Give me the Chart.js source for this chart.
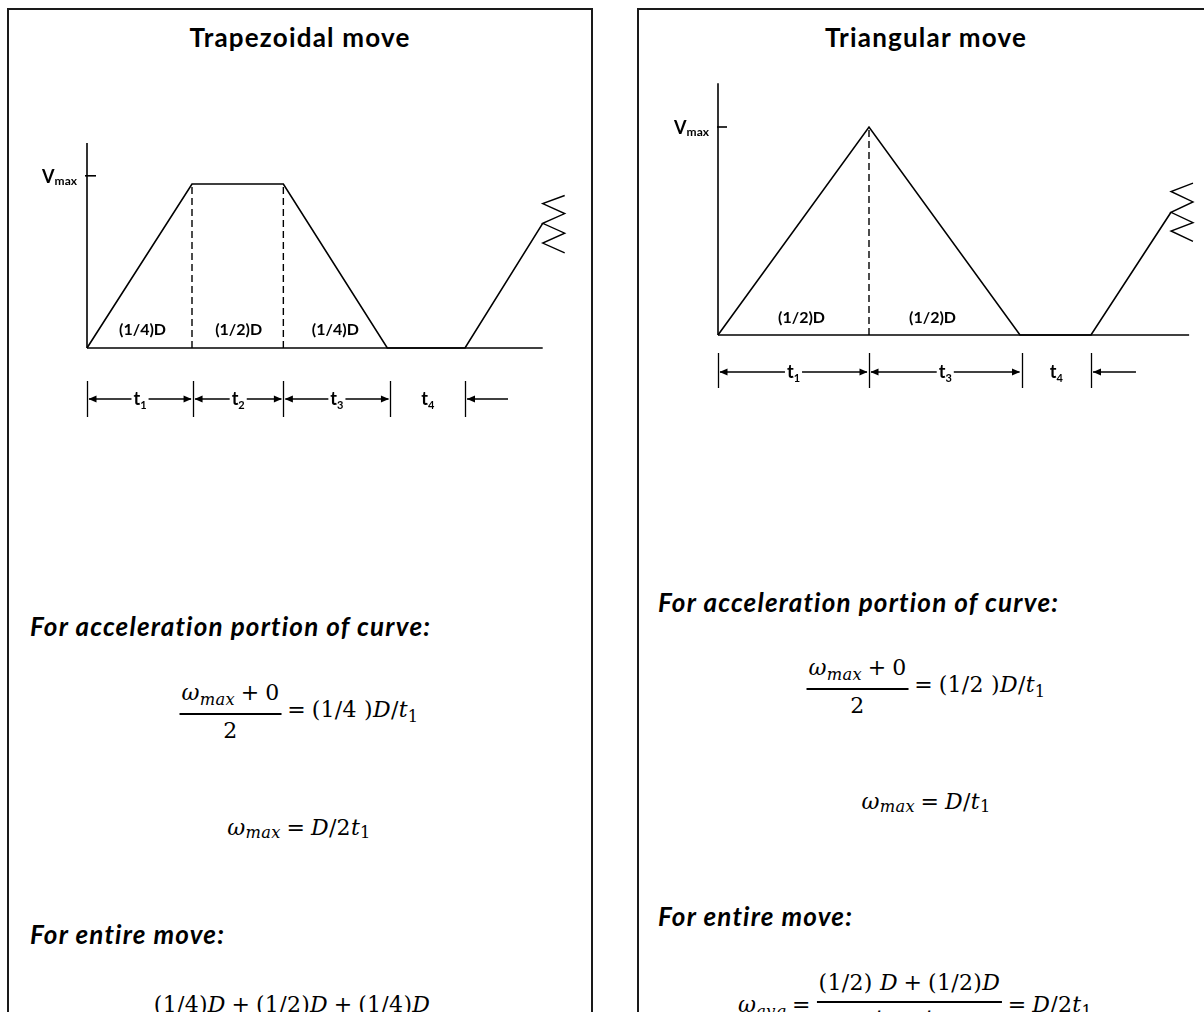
<!DOCTYPE html>
<html><head><meta charset="utf-8">
<script src="https://cdn.jsdelivr.net/npm/chart.js@4.4.0/dist/chart.umd.min.js"></script>
<style>
html,body{margin:0;padding:0;background:#fff;width:1204px;height:1012px;overflow:hidden;position:relative;}
.box{position:absolute;top:8px;border:2px solid #1a1a1a;border-bottom:none;height:1100px;box-sizing:border-box;}
#boxL{left:7px;width:586px;}
#boxR{left:637px;width:620px;}
.title{position:absolute;font-family:Lato,'Open Sans',sans-serif;font-weight:700;font-size:26px;line-height:31px;letter-spacing:1.2px;white-space:nowrap;transform:translateX(-50%);color:#000;}
.head{position:absolute;font-family:Lato,'Open Sans',sans-serif;font-weight:700;font-style:italic;font-size:26px;line-height:31px;letter-spacing:1.2px;white-space:nowrap;color:#000;}
.m{position:absolute;font-family:'DejaVu Serif',serif;font-size:22px;line-height:26px;letter-spacing:0.3px;white-space:nowrap;display:flex;align-items:flex-start;transform:translateX(-50%);color:#000;}
.i{font-style:italic;}
.sub{font-size:0.74em;position:relative;top:0.32em;}
.frac{display:inline-flex;flex-direction:column;align-items:center;}
.num{border-bottom:2px solid #000;padding:0 2px 5px 2px;}
.den{padding-top:3px;}
.op{margin:0 0.26em;}
.rhs{margin-top:17px;}
.rhs.low{margin-top:22px;}
canvas{position:absolute;}
#cTrap{left:20px;top:100px;}
#cTri{left:650px;top:60px;}
</style></head>
<body>
<div class="box" id="boxL"></div>
<div class="box" id="boxR"></div>
<div class="title" style="left:300px;top:22px">Trapezoidal move</div>
<div class="title" style="left:926px;top:22px">Triangular move</div>

<canvas id="cTrap" width="560" height="340"></canvas>
<canvas id="cTri" width="554" height="360"></canvas>

<div class="head" style="left:30px;top:611px">For acceleration portion of curve:</div>
<div class="m" style="left:299px;top:680px">
  <span class="frac"><span class="num"><span class="i">ω</span><span class="sub i">max</span><span class="op">+</span>0</span><span class="den">2</span></span>
  <span class="rhs"><span class="op">=</span>(1/4 )<span class="i">D</span>/<span class="i">t</span><span class="sub">1</span></span>
</div>
<div class="m" style="left:299px;top:815px"><span class="i">ω</span><span class="sub i">max</span><span class="op">=</span><span class="i">D</span>/2<span class="i">t</span><span class="sub">1</span></div>
<div class="head" style="left:30px;top:919px">For entire move:</div>
<div class="m" style="left:292px;top:992px">(1/4) <span class="i">D</span><span class="op">+</span>(1/2)<span class="i">D</span><span class="op">+</span>(1/4)<span class="i">D</span></div>

<div class="head" style="left:658px;top:587px">For acceleration portion of curve:</div>
<div class="m" style="left:926px;top:655px">
  <span class="frac"><span class="num"><span class="i">ω</span><span class="sub i">max</span><span class="op">+</span>0</span><span class="den">2</span></span>
  <span class="rhs"><span class="op">=</span>(1/2 )<span class="i">D</span>/<span class="i">t</span><span class="sub">1</span></span>
</div>
<div class="m" style="left:926px;top:789px"><span class="i">ω</span><span class="sub i">max</span><span class="op">=</span><span class="i">D</span>/<span class="i">t</span><span class="sub">1</span></div>
<div class="head" style="left:658px;top:901px">For entire move:</div>
<div class="m" style="left:915px;top:970px">
  <span class="rhs low"><span class="i">ω</span><span class="sub i">avg</span><span class="op">=</span></span>
  <span class="frac"><span class="num">(1/2) <span class="i">D</span><span class="op">+</span>(1/2)<span class="i">D</span></span><span class="den"><span class="i">t</span><span class="sub">1</span><span class="op">+</span><span class="i">t</span><span class="sub">3</span></span></span>
  <span class="rhs low"><span class="op">=</span><span class="i">D</span>/2<span class="i">t</span><span class="sub">1</span></span>
</div>

<script>
// ---------- Trapezoidal move (time in units of t1, velocity in units of plateau speed) ----------
const trapTimes = [0, 1.00, 1.87, 2.86, 3.60, 4.34];
const trapVel   = [0, 1.00, 1.00, 0.00, 0.00, 0.76];
const trapVmax  = 1.05;
const trapAxisTop = 1.25;
const trapBaselineEnd = 4.34;
const trapAreaLabels = ['(1/4)D', '(1/2)D', '(1/4)D'];
const trapDimTicks = [0, 1.01, 1.87, 2.89, 3.60];
const trapDimLabels = ['t1', 't2', 't3', 't4'];
const trapBreakVel = [0.93, 0.88, 0.82, 0.76, 0.70, 0.64, 0.58];

// ---------- Triangular move ----------
const triTimes = [0, 1.00, 2.00, 2.47, 3.00];
const triVel   = [0, 1.00, 0.00, 0.00, 0.59];
const triVmax  = 1.00;
const triAxisTop = 1.21;
const triBaselineEnd = 3.12;
const triAreaLabels = ['(1/2)D', '(1/2)D'];
const triDimTicks = [0, 1.00, 2.01, 2.47];
const triDimLabels = ['t1', 't3', 't4'];
const triBreakVel = [0.73, 0.69, 0.64, 0.59, 0.54, 0.50, 0.45];

const INK = '#000';

const decor = {
  id: 'decor',
  afterDatasetsDraw(chart, args, o) {
    const ctx = chart.ctx, xs = chart.scales.x, ys = chart.scales.y;
    const px = t => xs.getPixelForValue(t), py = v => ys.getPixelForValue(v);
    const L = o.lay;
    ctx.save();
    ctx.fillStyle = INK; ctx.strokeStyle = INK;
    // V_max label
    const x0 = px(0), yv = py(o.vmax);
    ctx.textBaseline = 'alphabetic';
    ctx.font = 'bold 18px Lato';
    const wV = ctx.measureText('V').width;
    ctx.font = 'bold 12px Lato';
    const wM = ctx.measureText('max').width;
    const right = x0 - L.vGap;
    ctx.font = 'bold 18px Lato'; ctx.textAlign = 'left';
    ctx.fillText('V', right - wM - wV, yv + 7);
    ctx.font = 'bold 12px Lato';
    ctx.fillText('max', right - wM, yv + 9);
    // area labels
    ctx.font = 'bold 16px Lato'; ctx.textAlign = 'center'; ctx.textBaseline = 'middle';
    const yb = py(0);
    o.areaLabels.forEach((s, k) => {
      const xm = (px(o.times[k]) + px(o.times[k + 1])) / 2 + L.areaNudge[k];
      ctx.fillText(s, xm, yb + L.areaDy);
    });
    // dimension row
    ctx.lineWidth = 1.3;
    const yT = yb + L.dimTop, yB = yb + L.dimBot, yA = yb + L.dimArrow;
    o.dimTicks.forEach(t => {
      ctx.beginPath(); ctx.moveTo(Math.round(px(t)) + 0.5, yT); ctx.lineTo(Math.round(px(t)) + 0.5, yB); ctx.stroke();
    });
    const head = (xt, dir) => {
      ctx.beginPath();
      ctx.moveTo(xt, yA);
      ctx.lineTo(xt + dir * 8, yA - 3.5);
      ctx.lineTo(xt + dir * 8, yA + 3.5);
      ctx.closePath(); ctx.fill();
    };
    const label = (s, xm) => {
      ctx.font = 'bold 18px Lato';
      const wt = ctx.measureText(s[0]).width;
      ctx.font = 'bold 11px Lato';
      const ws = ctx.measureText(s.slice(1)).width;
      const w = wt + ws;
      ctx.fillStyle = '#fff';
      ctx.fillRect(xm - w / 2 - 2, yA - 9, w + 4, 20);
      ctx.fillStyle = INK;
      ctx.textAlign = 'left'; ctx.textBaseline = 'alphabetic';
      ctx.font = 'bold 18px Lato';
      ctx.fillText(s[0], xm - w / 2, yA + 6);
      ctx.font = 'bold 11px Lato';
      ctx.fillText(s.slice(1), xm - w / 2 + wt, yA + 10);
    };
    const n = o.dimLabels.length;
    for (let k = 0; k < n - 1; k++) {
      const a = px(o.dimTicks[k]), b = px(o.dimTicks[k + 1]);
      ctx.beginPath(); ctx.moveTo(a + 2, yA); ctx.lineTo(b - 2, yA); ctx.stroke();
      head(a + 1.5, 1); head(b - 1.5, -1);
      label(o.dimLabels[k], (a + b) / 2);
    }
    const a = px(o.dimTicks[n - 1]), b = px(o.dimTicks[n]);
    ctx.fillStyle = INK;
    label(o.dimLabels[n - 1], (a + b) / 2);
    ctx.beginPath(); ctx.moveTo(b + L.loneLen, yA); ctx.lineTo(b + 2, yA); ctx.stroke();
    head(b + 2, 1);
    ctx.restore();
  }
};

function buildDiagram(id, d, lay) {
  const canvas = document.getElementById(id);
  const W = canvas.width, H = canvas.height;
  const xMin = -lay.ox / lay.pxT, xMax = xMin + W / lay.pxT;
  const yMax = lay.oy / lay.pxV, yMin = yMax - H / lay.pxV;
  const pxToT = p => p / lay.pxT;
  const line = (pts, extra) => Object.assign({
    data: pts, showLine: true, borderColor: INK, borderWidth: 1.6,
    pointRadius: 0, pointHoverRadius: 0, fill: false, tension: 0
  }, extra || {});
  const peak = Math.max(...d.vel);
  const endT = d.times[d.times.length - 1];
  const datasets = [
    line([{x: 0, y: 0}, {x: 0, y: d.axisTop}]),
    line([{x: 0, y: 0}, {x: d.baselineEnd, y: 0}]),
    line(d.times.map((t, i) => ({x: t, y: d.vel[i]}))),
    line([{x: pxToT(-lay.tickL), y: d.vmax}, {x: pxToT(lay.tickR), y: d.vmax}]),
    line(d.breakVel.map((v, i) => ({x: i % 2 === 0 ? endT + pxToT(lay.breakW) : endT, y: v})), {borderWidth: 1.4})
  ];
  d.times.forEach((t, i) => {
    if (d.vel[i] === peak) datasets.push(line([{x: t, y: 0}, {x: t, y: peak}], {borderDash: [7, 4], borderWidth: 1.4}));
  });
  return new Chart(canvas, {
    type: 'scatter',
    data: {datasets},
    options: {
      responsive: false, animation: false, devicePixelRatio: 1, events: [],
      layout: {padding: 0},
      scales: {
        x: {type: 'linear', min: xMin, max: xMax, display: false},
        y: {type: 'linear', min: yMin, max: yMax, display: false}
      },
      plugins: {
        legend: {display: false}, tooltip: {enabled: false},
        decor: {lay, vmax: d.vmax, times: d.times, areaLabels: d.areaLabels, dimTicks: d.dimTicks, dimLabels: d.dimLabels}
      }
    },
    plugins: [decor]
  });
}

buildDiagram('cTrap', {
  times: trapTimes, vel: trapVel, vmax: trapVmax, axisTop: trapAxisTop, baselineEnd: trapBaselineEnd,
  areaLabels: trapAreaLabels, dimTicks: trapDimTicks, dimLabels: trapDimLabels, breakVel: trapBreakVel
}, {ox: 67, oy: 248, pxT: 105, pxV: 164, tickL: 2, tickR: 9, breakW: 22, vGap: 10,
    areaDy: -18, areaNudge: [3, 1, 0], dimTop: 33, dimBot: 69, dimArrow: 51, loneLen: 43});

buildDiagram('cTri', {
  times: triTimes, vel: triVel, vmax: triVmax, axisTop: triAxisTop, baselineEnd: triBaselineEnd,
  areaLabels: triAreaLabels, dimTicks: triDimTicks, dimLabels: triDimLabels, breakVel: triBreakVel
}, {ox: 68, oy: 275, pxT: 151, pxV: 208, tickL: 1, tickR: 9, breakW: 22, vGap: 9,
    areaDy: -17, areaNudge: [8, -12], dimTop: 18, dimBot: 53, dimArrow: 37, loneLen: 45});
</script>
</body></html>
